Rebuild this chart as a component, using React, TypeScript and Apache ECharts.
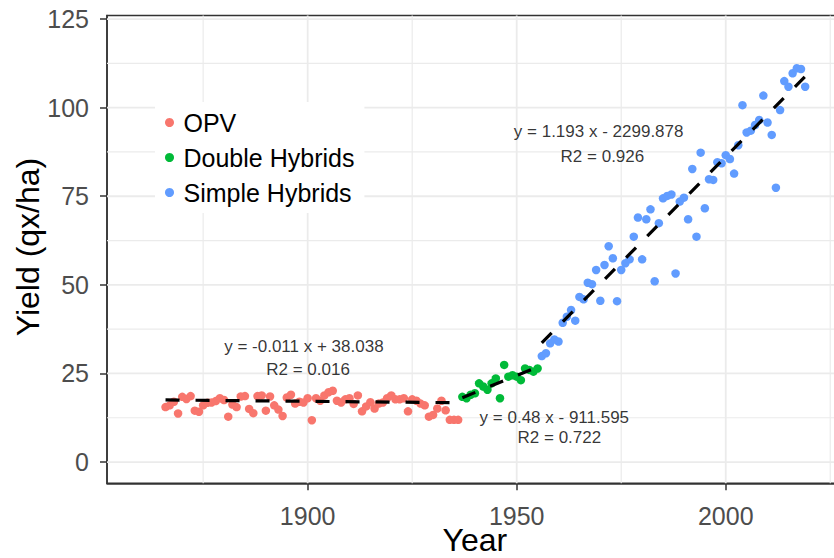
import React, { useEffect, useRef } from "react";
import * as echarts from "echarts";

const FONT = "'Liberation Sans', Arial, Helvetica, sans-serif";

// ---- data -----------------------------------------------------------------
const OPV_START = 1866;
const OPV_YIELD = [
  15.5, 16.0, 17.0, 13.7, 18.4, 17.8, 18.6, 14.5, 14.2, 16.0,
  16.7, 16.8, 17.2, 18.0, 17.5, 12.8, 16.2, 15.5, 18.5, 18.6,
  15.0, 13.8, 18.6, 18.8, 14.5, 18.5, 16.0, 14.8, 13.0, 18.2,
  19.0, 16.5, 17.0, 16.8, 18.0, 11.8, 18.0, 17.3, 18.8, 19.7,
  20.1, 17.3, 16.8, 17.7, 18.0, 16.4, 18.8, 14.3, 15.7, 16.9,
  15.1, 16.5, 16.8, 18.0, 18.8, 17.7, 17.7, 18.0, 14.3, 17.7,
  17.3, 16.5, 16.0, 12.8, 13.3, 15.1, 17.3, 14.6, 11.9, 11.9,
  11.9,
];

const DH_START = 1937;
const DH_YIELD = [
  18.4, 18.0, 19.0, 19.4, 22.2, 21.3, 20.4, 22.2, 23.6, 18.0,
  27.4, 24.1, 24.5, 24.1, 23.1, 26.4, 26.0, 25.5, 26.4,
];

const SH_START = 1956;
const SH_YIELD = [
  29.9, 30.7, 33.5, 34.6, 34.0, 39.3, 41.0, 42.9, 39.9, 46.6,
  45.9, 50.6, 50.2, 54.2, 45.5, 55.6, 60.9, 57.5, 45.4, 54.2,
  56.1, 57.2, 63.6, 69.0, 57.2, 68.5, 71.3, 51.0, 67.4, 74.4,
  75.1, 75.5, 53.2, 73.5, 74.6, 68.5, 82.7, 63.6, 87.3, 71.6,
  79.8, 79.6, 84.6, 84.3, 86.6, 85.5, 81.4, 89.4, 100.7, 93.0,
  93.5, 95.1, 96.5, 103.4, 95.8, 92.3, 77.4, 99.3, 107.5, 105.9,
  109.7, 111.1, 110.9, 105.9,
];

const GROUP_NAMES = ["OPV", "Double Hybrids", "Simple Hybrids"];
const GROUP_COLORS = ["#F8766D", "#00BA38", "#619CFF"];

// linear fits: slope, intercept, r2
const FIT_SLOPE = [-0.011, 0.48, 1.193];
const FIT_INTERCEPT = [38.038, -911.595, -2299.878];
const FIT_R2 = [0.016, 0.722, 0.926];

const X_MAJOR = [1900, 1950, 2000];
const X_MINOR = [1875, 1925, 1975, 2025];
const Y_MAJOR = [0, 25, 50, 75, 100, 125];
const Y_MINOR = [12.5, 37.5, 62.5, 87.5, 112.5];

// ---- layout (not data) -----------------------------------------------------
const X_MIN = 1852;
const X_MAX = 2028;
const Y_MIN = -6;
const Y_MAX = 126;
const EQ_POS = [
  [1899.1, 32.7],
  [1959.0, 12.7],
  [1969.6, 93.4],
];
const R2_POS = [
  [1900.1, 26.2],
  [1960.2, 6.8],
  [1970.5, 86.1],
];

const toPoints = (start: number, vals: number[]) =>
  vals.map((v, i) => [start + i, v]);

const groups = [
  toPoints(OPV_START, OPV_YIELD),
  toPoints(DH_START, DH_YIELD),
  toPoints(SH_START, SH_YIELD),
];

const fmtEq = (s: number, b: number) =>
  `y = ${s} x ${b < 0 ? "-" : "+"} ${Math.abs(b)}`;

function buildOption() {
  const gridData: number[][] = [
    ...X_MAJOR.map((v) => [v, 0, 1]),
    ...X_MINOR.map((v) => [v, 0, 0]),
    ...Y_MAJOR.map((v) => [v, 1, 1]),
    ...Y_MINOR.map((v) => [v, 1, 0]),
  ];

  const series: any[] = [
    {
      type: "custom",
      name: "grid",
      silent: true,
      z: 1,
      data: gridData,
      encode: { x: 0 },
      renderItem: (params: any, api: any) => {
        const cs = params.coordSys;
        const v = api.value(0);
        const dir = api.value(1);
        const major = api.value(2) === 1;
        const style = { stroke: "#EBEBEB", lineWidth: major ? 1.8 : 1.2 };
        if (dir === 0) {
          const x = api.coord([v, Y_MIN])[0];
          return { type: "line", shape: { x1: x, y1: cs.y, x2: x, y2: cs.y + cs.height }, style };
        }
        const y = api.coord([X_MIN, v])[1];
        return { type: "line", shape: { x1: cs.x, y1: y, x2: cs.x + cs.width, y2: y }, style };
      },
    },
  ];

  groups.forEach((pts, i) => {
    series.push({
      type: "scatter",
      name: GROUP_NAMES[i],
      data: pts,
      symbol: "circle",
      symbolSize: 8.5,
      itemStyle: { color: GROUP_COLORS[i], opacity: 1 },
      z: 3,
    });
  });

  groups.forEach((pts, i) => {
    const x0 = pts[0][0];
    const x1 = pts[pts.length - 1][0];
    const f = (x: number) => FIT_SLOPE[i] * x + FIT_INTERCEPT[i];
    series.push({
      type: "line",
      name: "fit" + i,
      data: [
        [x0, f(x0)],
        [x1, f(x1)],
      ],
      symbol: "none",
      silent: true,
      lineStyle: { color: "#000", width: 3.2, type: [14, 16] },
      z: 4,
    });
  });

  const notes: any[] = [];
  FIT_SLOPE.forEach((s, i) => {
    notes.push({ value: EQ_POS[i], label: { formatter: fmtEq(s, FIT_INTERCEPT[i]) } });
    notes.push({ value: R2_POS[i], label: { formatter: `R2 = ${FIT_R2[i]}` } });
  });
  series.push({
    type: "scatter",
    name: "notes",
    data: notes,
    symbol: "circle",
    symbolSize: 1,
    silent: true,
    itemStyle: { color: "rgba(0,0,0,0)" },
    label: {
      show: true,
      position: "inside",
      color: "#000",
      fontSize: 17,
      fontFamily: FONT,
    },
    z: 5,
  });

  const axisCommon = {
    type: "value",
    axisLine: { show: true, onZero: false, lineStyle: { color: "#333333", width: 1.5 } },
    splitLine: { show: false },
  };
  const labelFmt = (v: number) => String(v);

  return {
    animation: false,
    backgroundColor: "#ffffff",
    grid: {
      left: 107,
      top: 15.5,
      width: 735.8,
      height: 467.8,
      show: true,
      borderColor: "#333333",
      borderWidth: 1.5,
      backgroundColor: "transparent",
      containLabel: false,
    },
    xAxis: {
      ...axisCommon,
      min: X_MIN,
      max: X_MAX,
      axisTick: { show: true, length: 7, customValues: X_MAJOR, lineStyle: { color: "#333333", width: 1.5 } },
      axisLabel: { customValues: X_MAJOR, formatter: labelFmt, margin: 20, fontSize: 25, color: "#4D4D4D", fontFamily: FONT },
    },
    yAxis: {
      ...axisCommon,
      min: Y_MIN,
      max: Y_MAX,
      axisTick: { show: true, length: 7, customValues: Y_MAJOR, lineStyle: { color: "#333333", width: 1.5 } },
      axisLabel: { customValues: Y_MAJOR, formatter: labelFmt, margin: 18, fontSize: 25, color: "#4D4D4D", fontFamily: FONT },
    },
    legend: {
      data: GROUP_NAMES,
      orient: "vertical",
      left: 155,
      top: 102,
      icon: "circle",
      itemWidth: 18,
      itemHeight: 9,
      itemGap: 10,
      padding: [8, 10],
      backgroundColor: "#ffffff",
      textStyle: { fontSize: 25, color: "#000", fontFamily: FONT, lineHeight: 24.5 },
    },
    graphic: [
      {
        type: "text",
        x: 474.8,
        y: 540,
        style: { text: "Year", fontSize: 32, fontFamily: FONT, fill: "#000", align: "center", verticalAlign: "middle" },
      },
      {
        type: "text",
        x: 28,
        y: 247,
        rotation: Math.PI / 2,
        style: { text: "Yield (qx/ha)", fontSize: 32, fontFamily: FONT, fill: "#000", align: "center", verticalAlign: "middle" },
      },
    ],
    series,
  };
}

export default function App() {
  const ref = useRef<HTMLDivElement>(null);
  useEffect(() => {
    if (!ref.current) return;
    const chart = echarts.init(ref.current, null, { renderer: "svg" });
    chart.setOption(buildOption() as any);
    return () => chart.dispose();
  }, []);
  return (
    <div
      style={{
        position: "fixed",
        left: 0,
        top: 0,
        width: 834,
        height: 558,
        overflow: "hidden",
        background: "#fff",
      }}
    >
      <div ref={ref} style={{ width: 860, height: 558 }} />
    </div>
  );
}
